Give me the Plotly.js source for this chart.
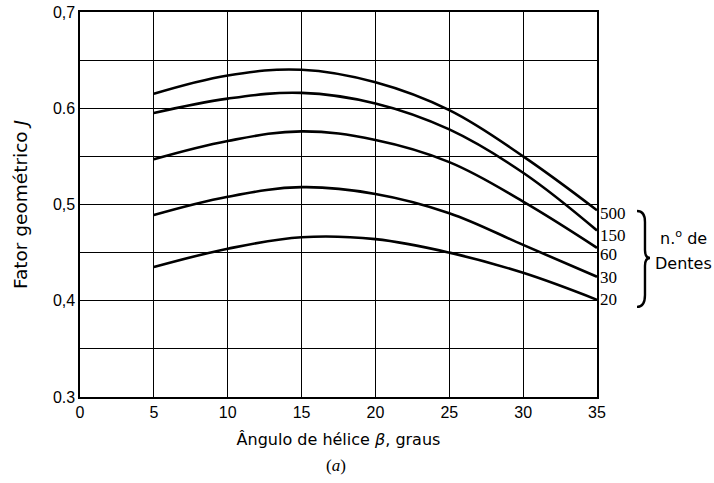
<!DOCTYPE html>
<html>
<head>
<meta charset="utf-8">
<script src="https://cdn.plot.ly/plotly-3.0.1.min.js"></script>
<style>
html,body{margin:0;padding:0;background:#fff;}
#chart{width:714px;height:483px;}
</style>
</head>
<body>
<div id="chart"></div>
<script>
// Helix angle (degrees)
const helixAngle = [5, 10, 15, 20, 25, 30, 35];
// Geometry factor J for each number of teeth
const teeth500 = [0.615, 0.634, 0.640, 0.627, 0.598, 0.550, 0.494];
const teeth150 = [0.595, 0.610, 0.616, 0.605, 0.578, 0.533, 0.473];
const teeth60  = [0.547, 0.566, 0.576, 0.567, 0.544, 0.503, 0.455];
const teeth30  = [0.489, 0.508, 0.518, 0.511, 0.491, 0.458, 0.425];
const teeth20  = [0.435, 0.454, 0.466, 0.464, 0.450, 0.429, 0.401];
const seriesNames = ["500", "150", "60", "30", "20"];
const seriesValues = [teeth500, teeth150, teeth60, teeth30, teeth20];
// Tick labels
const xTickVals = [0, 5, 10, 15, 20, 25, 30, 35];
const xTickText = ["0", "5", "10", "15", "20", "25", "30", "35"];
const yTickVals = [0.3, 0.4, 0.5, 0.6, 0.7];
const yTickText = ["0.3", "0,4", "0,5", "0.6", "0,7"];

// small vertical nudges (px) so the end labels sit as in the original figure
const labelShift = [-3, -5, -7, -1, 0];

const traces = seriesValues.map((vals, i) => ({
  x: helixAngle,
  y: vals,
  name: seriesNames[i],
  type: "scatter",
  mode: "lines",
  line: {color: "#000", width: 2.6, shape: "spline", smoothing: 1.1},
  hoverinfo: "x+y+name"
}));

const endLabels = seriesValues.map((vals, i) => ({
  x: helixAngle[helixAngle.length - 1],
  y: vals[vals.length - 1],
  xref: "x", yref: "y",
  text: seriesNames[i],
  showarrow: false,
  xanchor: "left", yanchor: "middle",
  xshift: 1, yshift: labelShift[i],
  font: {family: "Liberation Serif, serif", size: 17, color: "#000"}
}));

const layout = {
  width: 714, height: 483,
  margin: {l: 80, r: 117, t: 12, b: 86},
  paper_bgcolor: "#fff",
  plot_bgcolor: "#fff",
  showlegend: false,
  font: {family: "DejaVu Sans, sans-serif", color: "#000", size: 14},
  xaxis: {
    range: [0, 35],
    tickvals: xTickVals, ticktext: xTickText,
    showgrid: true, gridcolor: "#000", gridwidth: 1.2,
    showline: true, linecolor: "#000", linewidth: 1.6, mirror: true,
    zeroline: false, ticks: "",
    tickfont: {family: "Liberation Sans, Arial, sans-serif", size: 16},
    title: {text: "Ângulo de hélice <i>β</i>, graus", font: {size: 16}, standoff: 14}
  },
  yaxis: {
    range: [0.3, 0.7],
    tickvals: yTickVals, ticktext: yTickText,
    showgrid: true, gridcolor: "#000", gridwidth: 1.2,
    minor: {dtick: 0.05, showgrid: true, gridcolor: "#000", gridwidth: 1.2, ticks: ""},
    showline: true, linecolor: "#000", linewidth: 1.6, mirror: true,
    zeroline: false, ticks: "",
    tickfont: {family: "Liberation Sans, Arial, sans-serif", size: 16},
    title: {text: "Fator geométrico <i>J</i>", font: {size: 18.5}, standoff: 20}
  },
  annotations: endLabels.concat([
    {xref: "paper", yref: "paper", x: 1.168, y: 0.413, text: "n.<sup>o</sup> de",
     showarrow: false, xanchor: "center", yanchor: "middle",
     font: {size: 16, color: "#000"}},
    {xref: "paper", yref: "paper", x: 1.168, y: 0.348, text: "Dentes",
     showarrow: false, xanchor: "center", yanchor: "middle",
     font: {size: 16, color: "#000"}},
    {xref: "paper", yref: "paper", x: 0.495, y: -0.177, text: "(<i>a</i>)",
     showarrow: false, xanchor: "center", yanchor: "middle",
     font: {family: "Liberation Serif, serif", size: 17, color: "#000"}}
  ]),
  shapes: [{
    type: "path", xref: "paper", yref: "paper",
    path: "M 1.0774,0.4830 Q 1.0928,0.4830 1.0928,0.4545 L 1.0928,0.3818 Q 1.0928,0.3610 1.1025,0.3610 Q 1.0928,0.3610 1.0928,0.3403 L 1.0928,0.2649 Q 1.0928,0.2340 1.0774,0.2340",
    line: {color: "#000", width: 2.4}
  }]
};

Plotly.newPlot("chart", traces, layout, {displayModeBar: false, staticPlot: true});
</script>
</body>
</html>
